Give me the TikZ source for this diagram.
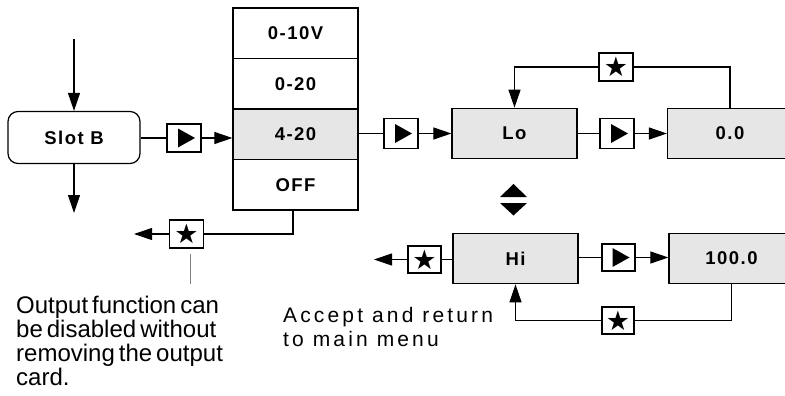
\documentclass[tikz,border=0pt]{standalone}
\usepackage{fontspec}
\setmainfont{Liberation Sans}
\newfontfamily\boxfont[LetterSpace=8]{Liberation Sans}
\newfontfamily\notefont[WordSpace=0.6]{Liberation Sans}
\newfontfamily\acceptfont[LetterSpace=15]{Liberation Sans}
\newfontfamily\symfont{DejaVu Sans}
\usetikzlibrary{arrows.meta,calc}
\definecolor{boxgray}{HTML}{E6E6E6}
\tikzset{
  arr/.style={-{Triangle[length=18pt,width=12pt]}},
  ln/.style={line width=1.1pt},
  menubox/.style={draw, line width=1.2pt, minimum width=125pt, minimum height=50.5pt,
    inner sep=0pt, font=\boxfont\bfseries\fontsize{18.5}{20}\selectfont},
  selbox/.style={menubox, fill=boxgray},
  btn/.style={draw, line width=1.1pt, minimum width=34pt, minimum height=28pt, inner sep=0pt, fill=white},
  playbtn/.style={btn},
  starbtn/.style={btn, font=\symfont\fontsize{27}{27}\selectfont},
}
\begin{document}
\begin{tikzpicture}[x=1pt,y=-1pt]
\useasboundingbox (0,0) rectangle (785,396);
\clip (0,0) rectangle (785,396);

% Slot B
\node[draw, line width=1.2pt, rounded corners=10pt, minimum width=132pt, minimum height=52pt,
  font=\boxfont\bfseries\fontsize{18.5}{20}\selectfont] (slot) at (74,137.5) {Slot B};
\coordinate (slotin) at (74,39);
\coordinate (slotout) at (74,213);
\draw[ln,arr] (slotin) -- (slot.north);
\draw[ln,arr] (slot.south) -- (slotout);

% output type column
\node[menubox] (r1) at (295.5,33.25) {0-10V};
\node[menubox] (r2) at (295.5,83.75) {0-20};
\node[selbox]  (r3) at (295.5,134.25) {4-20};
\node[menubox] (r4) at (295.5,184.75) {OFF};

\node[playbtn] (p1) at (184,138) {};
\draw[ln] (slot.east |- p1) -- (p1.west);
\draw[ln,arr] (p1.east) -- (p1.east -| r3.west);

% Lo / 0.0
\node[selbox] (lo) at (514.5,133.5) {Lo};
\node[selbox] (zero) at (730,133.5) {0.0};
\node[playbtn, minimum height=30pt] (p2) at (401,133.5) {};
\node[playbtn, minimum height=30pt] (p3) at (617,133.5) {};
\draw[ln] (r3.east |- p2) -- (p2.west);
\draw[ln,arr] (p2.east) -- (lo.west);
\draw[ln] (lo.east) -- (p3.west);
\draw[ln,arr] (p3.east) -- (zero.west);

\node[starbtn] (s1) at (616,67) {★};
\draw[ln] (zero.north) |- (s1.east);
\draw[ln,arr] (s1.west) -| (lo.north);

% up/down symbol
\fill (500,197) -- (527,197) -- (513.5,184) -- cycle;
\fill (500,203) -- (527,203) -- (513.5,215.5) -- cycle;

% Hi / 100.0
\node[selbox] (hi) at (515.5,258.5) {Hi};
\node[selbox] (hun) at (731.5,258.5) {100.0};
\node[starbtn, minimum height=27pt, minimum width=33pt] (s2) at (424.5,259.5) {★};
\coordinate (hiout) at (374,259.5);
\draw[ln] (hi.west |- s2) -- (s2.east);
\draw[ln,arr] (s2.west) -- (hiout);
\node[playbtn, minimum height=27pt, minimum width=33pt] (p4) at (618.5,257.5) {};
\draw[ln] (hi.east |- p4) -- (p4.west);
\draw[ln,arr] (p4.east) -- (p4.east -| hun.west);

\node[starbtn, minimum height=27pt, minimum width=32pt] (s3) at (618,320.5) {★};
\draw[ln] (hun.south) |- (s3.east);
\draw[ln,arr] (s3.west) -| (hi.south);

% play symbols
\foreach \b in {p1,p2,p3,p4}
  \fill ($(\b.center)+(-6,-9.5)$) -- ($(\b.center)+(-6,9.5)$) -- ($(\b.center)+(11,0)$) -- cycle;

% OFF branch
\node[starbtn] (s0) at (186.5,234) {★};
\coordinate (offdn) at (293,209);
\coordinate (offout) at (134,234);
\draw[ln] (offdn) |- (s0.east);
\draw[ln,arr] (s0.west) -- (offout);
\coordinate (ptrtop) at (190,254);
\coordinate (ptrbot) at (190,284);
\draw[line width=0.9pt, gray] (ptrtop) -- (ptrbot);

% notes
\node[anchor=north west, inner sep=0pt, align=left,
  font=\notefont\fontsize{24}{24}\selectfont] (note) at (16,295.5)
  {Output function can\\be disabled without\\removing the output\\card.};
\node[anchor=north west, inner sep=0pt, align=left,
  font=\acceptfont\fontsize{21}{24}\selectfont] (acc) at (283,307)
  {Accept and return\\to main menu};
\end{tikzpicture}
\end{document}
